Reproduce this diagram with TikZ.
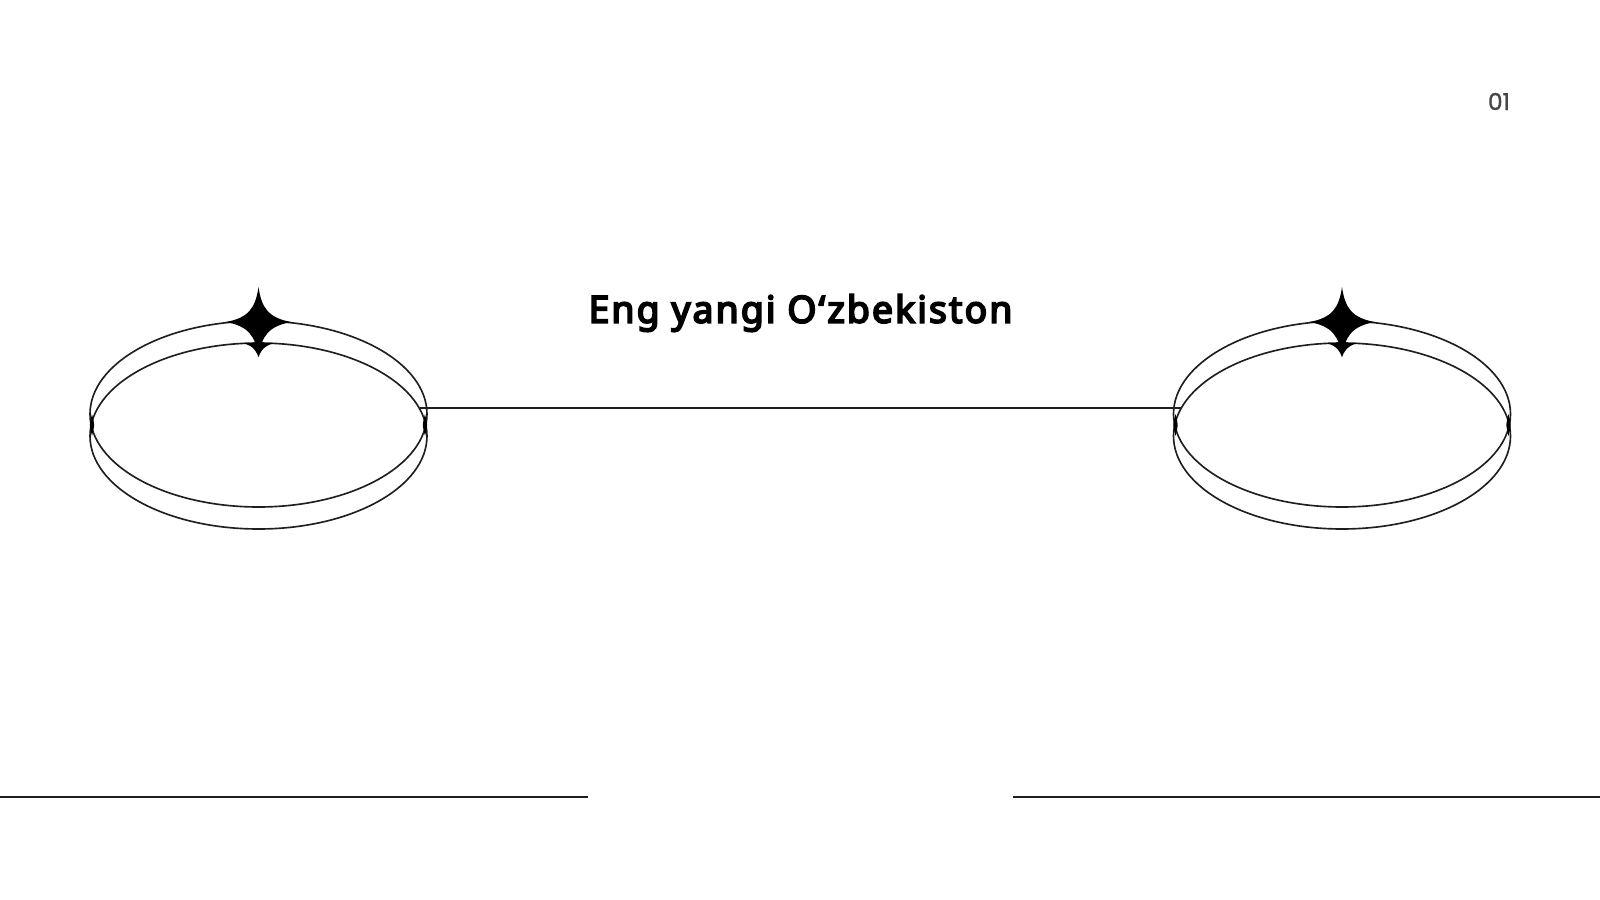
\documentclass[tikz,border=0pt]{standalone}
\usepackage{fontspec}
\usetikzlibrary{shapes.geometric}
\newfontfamily\titlefont{Noto Sans}[FakeBold=5,LetterSpace=5.8]
\newfontfamily\numfont{Poppins}[FakeBold=1.2]
\definecolor{ink}{HTML}{1F1F1F}
\tikzset{
  px/.style={x=0.05cm,y=-0.05cm},
  rim/.style={ellipse,draw=ink,line width=0.082cm,inner sep=0pt,minimum width=16.85cm,minimum height=9.3cm},
  rule/.style={draw=ink,line width=0.1cm},
  sparkle/.style={fill=black,draw=none},
  titletext/.style={font=\titlefont\fontsize{53}{60}\selectfont,text=black,anchor=base,inner sep=0pt},
  numtext/.style={font=\numfont\fontsize{33}{36}\selectfont,text=black!72,anchor=base,inner sep=0pt},
}
\newcommand{\starat}[2]{%
  \path[sparkle] (#1,#2-35) .. controls (#1+3,#2-14) and (#1+10,#2-4) .. (#1+33,#2)
    .. controls (#1+10,#2+4) and (#1+3,#2+14) .. (#1,#2+35)
    .. controls (#1-3,#2+14) and (#1-10,#2+4) .. (#1-33,#2)
    .. controls (#1-10,#2-4) and (#1-3,#2-14) .. (#1,#2-35) -- cycle;
  \path[sparkle] (#1-18,#2+21) .. controls (#1-8,#2+22) and (#1-3,#2+27) .. (#1,#2+35)
    .. controls (#1+3,#2+27) and (#1+8,#2+22) .. (#1+18,#2+21) -- cycle;}
\newcommand{\pinch}[2]{%
  \path[sparkle] (#1,#2-11) .. controls (#1+1.3,#2-5) and (#1+2.2,#2-3) .. (#1+2.2,#2)
    .. controls (#1+2.2,#2+3) and (#1+1.3,#2+5) .. (#1,#2+11)
    .. controls (#1-1.3,#2+5) and (#1-2.2,#2+3) .. (#1-2.2,#2)
    .. controls (#1-2.2,#2-3) and (#1-1.3,#2-5) .. (#1,#2-11) -- cycle;}
\begin{document}
\begin{tikzpicture}[px]
\useasboundingbox[fill=white] (0,0) rectangle (1600,900);
\coordinate (bl0) at (0,797);
\coordinate (bl1) at (588,797);
\coordinate (br0) at (1013,797);
\coordinate (br1) at (1600,797);
\node[rim] (upL) at (258.5,414) {};
\node[rim] (loL) at (258.5,436) {};
\node[rim] (upR) at (1342,414) {};
\node[rim] (loR) at (1342,436) {};
\starat{258.5}{322}
\starat{1342}{322}
\pinch{92}{425}
\pinch{425}{425}
\pinch{1175.5}{425}
\pinch{1508.5}{425}
\draw[rule] (loL.10) -- (loR.170);
\draw[rule] (bl0) -- (bl1);
\draw[rule] (br0) -- (br1);
\node[titletext] (title) at (800.5,322.7) {Eng yangi O‘zbekiston};
\node[numtext] (num) at (1499,110) {01};
\end{tikzpicture}
\end{document}
